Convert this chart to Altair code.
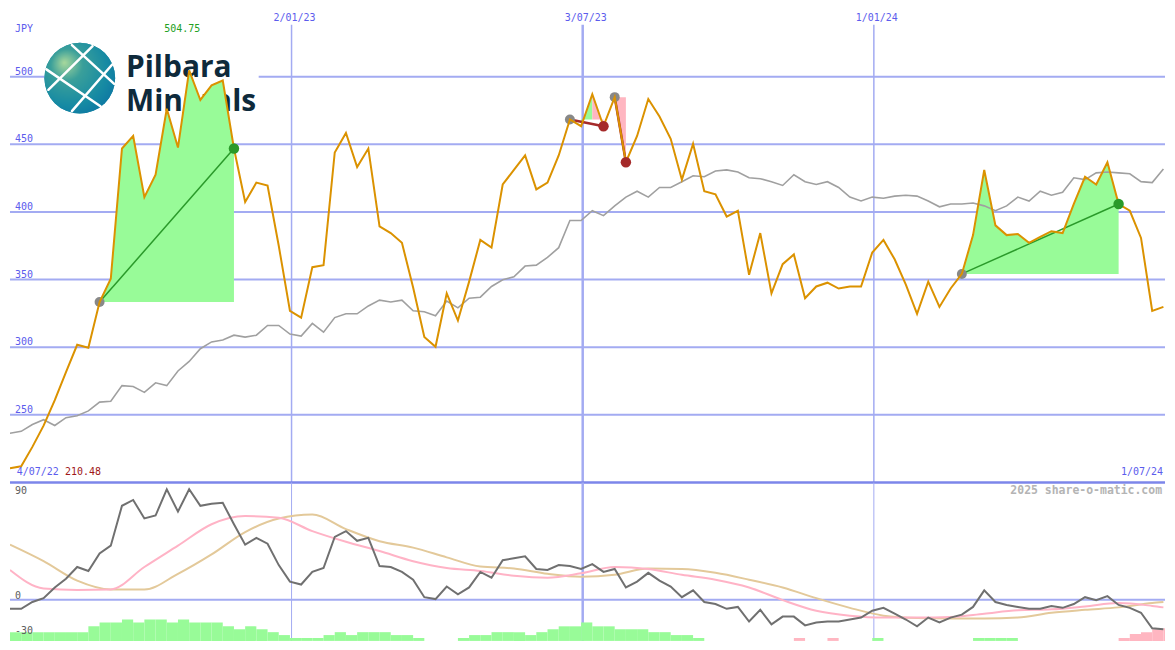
import altair as alt
import pandas as pd

# ---------------- data ----------------
START = "2022-07-10"   # weekly points

price = [210.48, 212.0, 226.3, 242.0, 260.8, 281.6, 301.8, 299.6, 333.4, 350.6,
         446.9, 456.2, 411.0, 427.5, 476.3, 447.6, 504.75, 482.8, 493.6, 497.2,
         446.9, 407.4, 421.7, 419.6, 375.0, 326.9, 321.9, 359.2, 360.7, 444.0,
         458.4, 433.2, 446.9, 389.4, 384.4, 377.2, 344.1, 307.5, 300.3, 339.8,
         319.7, 348.5, 379.3, 373.6, 420.3, 431.1, 441.8, 416.7, 421.7, 441.8,
         468.4, 463.4, 487.1, 463.4, 484.9, 436.8, 456.2, 483.5, 470.6, 454.1,
         423.9, 450.5, 415.3, 413.1, 396.6, 400.9, 353.5, 384.4, 339.8, 361.4,
         368.6, 336.2, 344.9, 347.7, 343.4, 344.9, 344.9, 370.0, 379.3, 365.0,
         346.3, 324.7, 348.5, 329.8, 343.4, 354.2, 382.9, 431.0, 390.1, 382.9,
         383.7, 377.2, 381.5, 385.8, 384.4, 405.9, 426.0, 420.3, 436.8, 405.9,
         400.9, 380.8, 326.9, 329.8]

ma30 = [236.4, 237.8, 242.8, 246.4, 242.1, 247.9, 249.3, 252.9, 259.4, 260.1,
        271.6, 270.9, 266.6, 273.7, 271.6, 282.4, 289.5, 298.9, 303.9, 305.3,
        308.9, 307.5, 308.9, 316.1, 316.1, 309.7, 308.2, 317.6, 311.1, 321.9,
        324.7, 324.7, 330.5, 334.8, 333.4, 334.8, 326.9, 326.2, 323.3, 334.1,
        329.1, 336.2, 337.0, 344.9, 349.9, 352.0, 360.0, 360.7, 366.4, 373.6,
        393.7, 393.7, 400.9, 397.3, 404.5, 411.0, 415.3, 411.0, 418.1, 418.1,
        422.4, 426.8, 426.0, 430.3, 431.1, 429.6, 425.3, 424.6, 422.4, 419.6,
        427.5, 422.4, 420.3, 422.4, 418.1, 411.0, 408.1, 411.0, 410.2, 411.7,
        412.4, 411.7, 408.1, 403.8, 405.9, 405.9, 406.6, 404.5, 400.9, 404.5,
        411.0, 408.1, 415.3, 412.4, 414.5, 425.3, 423.9, 428.9, 429.6, 428.9,
        428.2, 422.4, 421.7, 431.8]

osc = [-7.75, -7.75, -1.9, 1.4, 10.6, 18.1, 28.1, 24.75, 39.75, 46.4,
       80.6, 85.6, 69.75, 72.25, 94.75, 75.6, 94.75, 80.6, 82.25, 83.1,
       64.75, 47.25, 53.1, 48.1, 29.75, 15.6, 13.1, 23.9, 27.25, 53.9,
       58.9, 50.6, 53.1, 28.9, 28.1, 23.9, 17.25, 2.25, 0.6, 11.4,
       4.75, 10.6, 23.9, 18.9, 33.9, 35.6, 37.25, 26.4, 25.6, 29.75,
       28.9, 26.4, 30.6, 23.9, 26.4, 10.6, 15.6, 23.1, 16.4, 11.4,
       2.25, 8.1, -1.9, -3.6, -7.75, -6.1, -18.6, -8.6, -21.1, -14.4,
       -14.4, -21.9, -19.4, -18.6, -18.6, -16.9, -15.25, -9.4, -6.9, -11.9,
       -16.9, -22.75, -15.25, -19.4, -15.25, -12.75, -6.1, 8.1, -1.9, -4.4,
       -6.1, -7.75, -7.75, -5.25, -6.9, -3.6, 2.25, -0.25, 3.1, -4.4,
       -6.9, -11.1, -24.4, -25.25]

hist = [9, 9, 9, 9, 9, 9, 9, 15, 19, 19,
        22, 19, 22, 22, 19, 22, 19, 19, 19, 15,
        12, 15, 12, 9, 6, 3, 3, 3, 6, 9,
        6, 9, 9, 9, 6, 6, 3, 0, 0, 0,
        3, 6, 6, 9, 9, 9, 6, 9, 12, 15,
        15, 19, 15, 15, 12, 12, 12, 9, 9, 6,
        6, 3, 0, 0, 0, 0, 0, 0, 0, 0,
        -3, 0, 0, -3, 0, 0, 0, 3, 0, 0,
        0, 0, 0, 0, 0, 0, 3, 3, 3, 3,
        0, 0, 0, 0, 0, 0, 0, 0, 0, -3,
        -7, -9, -12, -13]

smooth_idx = list(range(0, 103, 3)) + [103]
pink = [25.6, 9.75, 8.5, 8.9, 28.1, 46.4, 64.75, 71.8, 70.25, 58.9,
        49.75, 41.8, 33.1, 27.25, 24.75, 20.6, 18.9, 22.7, 28.1, 26.4,
        21.4, 17.25, 10.6, -0.25, -9.4, -13.6, -15.25, -15.25, -14.8, -11.9,
        -9.0, -8.2, -5.7, -2.75, -5.25, -6.5]
tan = [47.25, 33.1, 16.4, 8.9, 8.9, 22.25, 38.9, 58.1, 69.75, 73.1,
       60.6, 50.2, 44.75, 36.4, 28.5, 26.8, 22.25, 19.75, 21.4, 26.8,
       26.4, 23.1, 17.25, 10.6, 1.4, -6.9, -13.6, -15.7, -16.1, -16.1,
       -15.25, -11.1, -8.6, -6.5, -2.75, -1.9]

y_ticks = [250, 300, 350, 400, 450, 500]
low_ticks = [90, 0, -30]
label_dates = ["2023-01-02", "2023-07-03", "2024-01-01"]
date_labels = ["2/01/23", "3/07/23", "1/01/24"]
minor_dates = ["2023-01-02", "2024-01-01"]
major_dates = ["2023-07-03"]
start_label = "4/07/22"
end_label = "1/07/24"
currency = "JPY"
credit = "2025 share-o-matic.com"
logo_words = ["Pilbara", "Minerals"]

# trades: (entry week, exit week, outcome)
trades = [(8, 20, "win"), (50, 53, "loss"), (54, 55, "loss"), (85, 99, "win")]
# shaded spans: (from week, to week, entry week, shade)
fill_spans = [(8, 20, 8, "green"), (51, 52, 50, "green"), (52, 53, 50, "pink"),
              (54, 55, 54, "pink"), (85, 99, 85, "green")]

# ---------------- styling ----------------
GRID = "#a3abf2"
BOUND = "#7c86ea"
BLUE_TXT = "#5c5ced"
ORANGE = "#db9200"
MA_COL = "#a0a0a0"
OSC_COL = "#707070"
PINK_LINE = "#ffb3c6"
TAN_LINE = "#e3c99a"
FILL = {"green": "#98fb98", "pink": "#ffb6c1"}
DKGREEN = "#2a9a2a"
DKRED = "#a52a2a"
MONO = "DejaVu Sans Mono"
NAVY = "#0e2a3b"

W = 1159
SX = W / 1175
SY = 634 / 650
H1 = round(487 * SY)
H2 = 634 - H1


def px(v):
    return round(v * SX, 2)


def py(v):
    return round(v * SY, 2)


dates = pd.date_range(START, periods=len(price), freq="7D")
ds = [d.strftime("%Y-%m-%d") for d in dates]
ds_next = [(d + pd.Timedelta(days=7)).strftime("%Y-%m-%d") for d in dates]

main = pd.DataFrame({"date": ds, "price": price, "ma": ma30, "osc": osc})
hist_df = pd.DataFrame({"date": ds, "date2": ds_next, "h": hist})
hist_df = hist_df[hist_df.h != 0].copy()
hist_df["hh"] = hist_df.h.abs()
hist_df["h0"] = 0
smooth_df = pd.DataFrame({"date": [ds[i] for i in smooth_idx], "pink": pink, "tan": tan})

one = pd.DataFrame({"a": [0]})

xsc = alt.Scale(type="utc", domain=[alt.DateTime(year=2022, month=7, date=10, utc=True),
                                    alt.DateTime(year=2024, month=7, date=1, utc=True)])


def X(f="date"):
    return alt.X(f"{f}:T", scale=xsc, axis=None)


ysc = alt.Scale(domain=[200, 550], nice=False, zero=False)


def Y(f):
    return alt.Y(f"{f}:Q", scale=ysc, axis=None)


# ---------------- upper panel ----------------
hgrid = alt.Chart(pd.DataFrame({"v": y_ticks})).mark_rule(color=GRID, strokeWidth=2).encode(y=Y("v"))
vminor = alt.Chart(pd.DataFrame({"date": minor_dates})).mark_rule(color=GRID, strokeWidth=1.5).encode(
    x=X(), y=alt.value(py(16)), y2=alt.value(H1))
vmajor = alt.Chart(pd.DataFrame({"date": major_dates})).mark_rule(color=GRID, strokeWidth=2.5).encode(
    x=X(), y=alt.value(py(16)), y2=alt.value(H1))

logo_bg = alt.Chart(one).mark_rect(color="white").encode(
    x=alt.value(px(35)), x2=alt.value(px(253)), y=alt.value(py(34)), y2=alt.value(py(110)))
globe_base = alt.Chart(one).mark_circle(opacity=1, color="#1a8aa0", size=(72 * SX) ** 2).encode(
    x=alt.value(px(71)), y=alt.value(py(71)))
globe = alt.Chart(one).mark_circle(
    opacity=1, size=(72 * SX) ** 2,
    color={"gradient": "radial", "x1": 0.28, "y1": 0.28, "r1": 0.0, "x2": 0.4, "y2": 0.4, "r2": 0.75,
           "stops": [{"offset": 0, "color": "#a8d89c"}, {"offset": 0.3, "color": "#3a9f9a"},
                     {"offset": 0.7, "color": "#168aa3"}, {"offset": 1, "color": "#0a70a3"}]}
).encode(x=alt.value(px(71)), y=alt.value(py(71)))
logo_strokes = [((63, 37), (106, 77)), ((37, 62), (92, 100)), ((84, 38), (39, 83)), ((104, 57), (63, 105))]
globe_lines = [
    alt.Chart(one).mark_rule(color="white", strokeWidth=2.5, strokeCap="round").encode(
        x=alt.value(px(a[0])), y=alt.value(py(a[1])), x2=alt.value(px(b[0])), y2=alt.value(py(b[1])))
    for a, b in logo_strokes
]
logo_text = alt.Chart(one).mark_text(text=logo_words, font="Open Sans", fontWeight="bold", fontSize=30,
                                     lineHeight=py(35), color=NAVY, align="left", baseline="alphabetic").encode(
    x=alt.value(px(118)), y=alt.value(py(70)))

rows = []
for g, (s, e, ent, kind) in enumerate(fill_spans):
    for i in range(s, e + 1):
        rows.append({"date": ds[i], "price": price[i], "base": price[ent], "grp": g, "fill": FILL[kind]})
fills = pd.DataFrame(rows)
fill_layer = alt.Chart(fills).mark_area(opacity=1).encode(
    x=X(), y=Y("price"), y2="base:Q", color=alt.Color("fill:N", scale=None), detail="grp:N")

tr = pd.DataFrame([{"d1": ds[a], "p1": price[a], "d2": ds[b], "p2": price[b], "kind": k} for a, b, k in trades])
win_lines = alt.Chart(tr[tr.kind == "win"]).mark_rule(color=DKGREEN, strokeWidth=1.5).encode(
    x=X("d1"), x2="d2:T", y=Y("p1"), y2="p2:Q")
loss_lines = alt.Chart(tr[tr.kind == "loss"]).mark_rule(color=DKRED, strokeWidth=2.5).encode(
    x=X("d1"), x2="d2:T", y=Y("p1"), y2="p2:Q")

entries = pd.DataFrame({"date": [ds[a] for a, b, k in trades], "price": [price[a] for a, b, k in trades]})
exits = pd.DataFrame({"date": [ds[b] for a, b, k in trades], "price": [price[b] for a, b, k in trades],
                      "c": [DKGREEN if k == "win" else DKRED for a, b, k in trades]})
entry_dots = alt.Chart(entries).mark_circle(size=100, color="#888888", opacity=1).encode(x=X(), y=Y("price"))
exit_dots = alt.Chart(exits).mark_circle(size=110, opacity=1).encode(
    x=X(), y=Y("price"), color=alt.Color("c:N", scale=None))

ma_line = alt.Chart(main).mark_line(color=MA_COL, strokeWidth=1.6, clip=True).encode(x=X(), y=Y("ma"))
price_line = alt.Chart(main).mark_line(color=ORANGE, strokeWidth=2, clip=True).encode(x=X(), y=Y("price"))

ylab = alt.Chart(pd.DataFrame({"v": y_ticks, "t": [str(v) for v in y_ticks]})).mark_text(
    font=MONO, fontSize=10, color=BLUE_TXT, align="left", baseline="alphabetic", dy=-2).encode(
    x=alt.value(px(5)), y=Y("v"), text="t:N")
dlab = alt.Chart(pd.DataFrame({"date": label_dates, "t": date_labels})).mark_text(
    font=MONO, fontSize=10, color=BLUE_TXT, align="center", baseline="middle", dx=3).encode(
    x=X(), y=alt.value(py(9)), text="t:N")
jpy = alt.Chart(one).mark_text(text=currency, font=MONO, fontSize=10, color=BLUE_TXT, align="left",
                               baseline="middle").encode(x=alt.value(px(5)), y=alt.value(py(21)))
imax = max(range(len(price)), key=lambda i: price[i])
imin = min(range(len(price)), key=lambda i: price[i])
maxlab = alt.Chart(pd.DataFrame({"date": [ds[imax]], "t": [f"{price[imax]:.2f}"]})).mark_text(
    font=MONO, fontSize=10, color="#22a022", align="center", baseline="middle", dx=-7).encode(
    x=X(), y=alt.value(py(21)), text="t:N")
startlab = alt.Chart(one).mark_text(text=start_label, font=MONO, fontSize=10, color=BLUE_TXT, align="left",
                                    baseline="middle").encode(x=alt.value(px(7)), y=alt.value(py(476)))
minlab = alt.Chart(pd.DataFrame({"t": [f"{price[imin]:.2f}"]})).mark_text(
    font=MONO, fontSize=10, color="#a01818", align="left", baseline="middle").encode(
    x=alt.value(px(56)), y=alt.value(py(476)), text="t:N")
endlab = alt.Chart(one).mark_text(text=end_label, font=MONO, fontSize=10, color=BLUE_TXT, align="right",
                                  baseline="middle").encode(x=alt.value(px(1173)), y=alt.value(py(476)))
boundary = alt.Chart(pd.DataFrame({"v": [200]})).mark_rule(color=BOUND, strokeWidth=2.5).encode(y=Y("v"))

upper = alt.layer(
    hgrid, vminor, vmajor, logo_bg, globe_base, globe, *globe_lines, logo_text,
    fill_layer, win_lines, loss_lines, ma_line, entry_dots, price_line, exit_dots,
    ylab, dlab, jpy, maxlab, startlab, minlab, endlab, boundary
).properties(width=W, height=H1)

# ---------------- lower panel ----------------
ylo = alt.Scale(domain=[-35.25, 100.6], nice=False, zero=False)


def YL(f):
    return alt.Y(f"{f}:Q", scale=ylo, axis=None)


hsc = alt.Scale(domain=[0, 163], nice=False, zero=True)

lvminor = alt.Chart(pd.DataFrame({"date": minor_dates})).mark_rule(color=GRID, strokeWidth=1).encode(x=X())
lvmajor = alt.Chart(pd.DataFrame({"date": major_dates})).mark_rule(color=GRID, strokeWidth=2.5).encode(x=X())
zero = alt.Chart(pd.DataFrame({"v": [0]})).mark_rule(color=GRID, strokeWidth=2).encode(y=YL("v"))
bars = alt.Chart(hist_df).mark_bar(clip=True).encode(
    x=X(), x2="date2:T",
    y=alt.Y("hh:Q", scale=hsc, axis=None), y2="h0:Q",
    color=alt.condition("datum.h > 0", alt.value(FILL["green"]), alt.value(FILL["pink"])))
pink_line = alt.Chart(smooth_df).mark_line(color=PINK_LINE, strokeWidth=2, interpolate="monotone", clip=True).encode(
    x=X(), y=YL("pink"))
tan_line = alt.Chart(smooth_df).mark_line(color=TAN_LINE, strokeWidth=2, interpolate="monotone", clip=True).encode(
    x=X(), y=YL("tan"))
osc_line = alt.Chart(main).mark_line(color=OSC_COL, strokeWidth=2, clip=True).encode(x=X(), y=YL("osc"))
llab = alt.Chart(pd.DataFrame({"v": low_ticks, "t": [str(v) for v in low_ticks]})).mark_text(
    font=MONO, fontSize=10, color="#606060", align="left", baseline="alphabetic", dy=-1).encode(
    x=alt.value(px(5)), y=YL("v"), text="t:N")
credit_t = alt.Chart(one).mark_text(text=credit, font=MONO, fontSize=11.5, fontWeight="bold", color="#b4b4b4",
                                    align="right", baseline="middle").encode(
    x=alt.value(px(1172)), y=alt.value(py(9)))

lower = alt.layer(
    lvminor, lvmajor, zero, bars, tan_line, pink_line, osc_line, llab, credit_t
).resolve_scale(y="independent").properties(width=W, height=H2)

chart = alt.vconcat(upper, lower, spacing=0, bounds="flush").properties(
    padding=0, background="white").configure_view(stroke=None)

chart.save("out.html", embed_options={"renderer": "svg", "actions": False})
